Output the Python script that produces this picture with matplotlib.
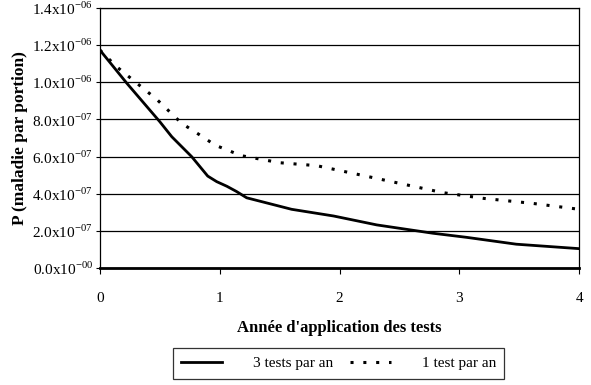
import matplotlib.pyplot as plt
import numpy as np

plt.rcParams['font.family'] = ['Liberation Serif', 'DejaVu Serif']
plt.rcParams['mathtext.fontset'] = 'custom'
plt.rcParams['mathtext.rm'] = 'Liberation Serif'

# 3 tests par an
t_three = [0.0, 0.225, 0.50, 0.60, 0.767, 0.90, 0.975, 1.06, 1.14, 1.225, 1.6, 1.95, 2.31, 2.78, 3.06, 3.475, 4.0]
p_three = [1.174e-6, 0.995e-6, 0.788e-6, 0.707e-6, 0.599e-6, 0.495e-6, 0.465e-6, 0.44e-6, 0.412e-6,
           0.378e-6, 0.316e-6, 0.28e-6, 0.232e-6, 0.187e-6, 0.165e-6, 0.128e-6, 0.104e-6]

# 1 test par an
t_one = [0.0, 0.14, 0.294, 0.475, 0.683, 0.864, 0.96, 1.18, 1.5, 1.81, 2.11, 2.5, 2.86, 3.2, 3.61, 4.0]
p_one = [1.174e-6, 1.084e-6, 1.003e-6, 0.908e-6, 0.779e-6, 0.704e-6, 0.662e-6, 0.605e-6,
         0.567e-6, 0.551e-6, 0.51e-6, 0.456e-6, 0.406e-6, 0.375e-6, 0.348e-6, 0.316e-6]

y_ticks = [0.0, 0.2e-6, 0.4e-6, 0.6e-6, 0.8e-6, 1.0e-6, 1.2e-6, 1.4e-6]
y_labels = [r'0.0x10$^{-00}$', r'2.0x10$^{-07}$', r'4.0x10$^{-07}$', r'6.0x10$^{-07}$',
            r'8.0x10$^{-07}$', r'1.0x10$^{-06}$', r'1.2x10$^{-06}$', r'1.4x10$^{-06}$']
x_ticks = [0, 1, 2, 3, 4]

fig = plt.figure(figsize=(5.91, 3.85), dpi=100)
ax = fig.add_axes([0.169, 0.304, 0.811, 0.675])

ax.plot(t_three, p_three, color='black', lw=2.0, label='3 tests par an')
ax.plot(t_one, p_one, color='black', lw=2.2, dashes=(1.0, 3.2), label='1 test par an')

ax.set_xlim(0, 4)
ax.set_ylim(0, 1.4e-6)
ax.set_yticks(y_ticks)
ax.set_yticklabels(y_labels, fontsize=11)
ax.set_xticks(x_ticks)
ax.set_xticklabels([str(x) for x in x_ticks], fontsize=11)
ax.tick_params(axis='y', direction='out', length=3, width=0.8, pad=2)
ax.tick_params(axis='x', direction='out', length=4, width=0.8, pad=13)

ax.yaxis.grid(True, color='black', lw=0.9)
ax.set_axisbelow(True)
for side in ['left', 'right', 'top']:
    ax.spines[side].set_linewidth(0.9)
ax.spines['bottom'].set_linewidth(2.0)

ax.set_xlabel("Année d'application des tests", fontsize=12, fontweight='bold', labelpad=11)
ax.set_ylabel('P (maladie par portion)', fontsize=12.5, fontweight='bold')
ax.yaxis.set_label_coords(-0.15, 0.5)

leg = ax.legend(loc='upper center', bbox_to_anchor=(0.498, -0.28), ncol=2, frameon=True,
                fancybox=False, edgecolor='black', fontsize=11, handlelength=2.7,
                columnspacing=1.1, handletextpad=2.0, borderpad=0.55)
leg.get_frame().set_linewidth(0.9)

fig.savefig('out.png', dpi=100)
